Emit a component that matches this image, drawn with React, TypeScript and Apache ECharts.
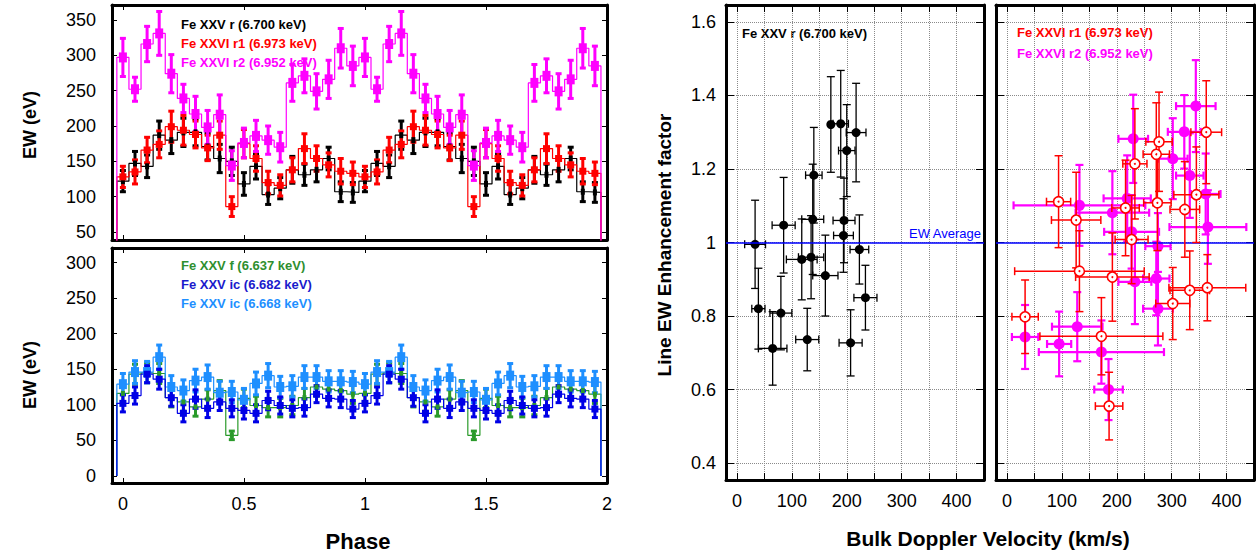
import React, { useEffect, useRef } from 'react';
import * as echarts from 'echarts';

// ---------- DATA ----------
const phaseBins = [0, 0.05, 0.1, 0.15, 0.2, 0.25, 0.3, 0.35, 0.4, 0.45, 0.5, 0.55, 0.6, 0.65, 0.7, 0.75, 0.8, 0.85, 0.9, 0.95];
const binHalfWidth = 0.025;
const phaseTicks = [0, 0.5, 1, 1.5, 2];
const ewTicksTop = [50, 100, 150, 200, 250, 300, 350];
const ewTicksBottom = [0, 50, 100, 150, 200, 250, 300];
const velLabelTicks = [0, 100, 200, 300, 400];
const velTicks = [0, 50, 100, 150, 200, 250, 300, 350, 400];
const enhTicks = [0.4, 0.6, 0.8, 1, 1.2, 1.4, 1.6];
const ewAverage = 1;

// Top-left panel (EW, eV)
const feXXVrEW = [122, 147, 143, 187, 180, 191, 191, 171, 154, 150, 118, 143, 103, 112, 138, 131, 138, 154, 107, 106];
const feXXVrErr = [15, 17, 16, 20, 19, 20, 19, 19, 20, 20, 16, 18, 14, 15, 19, 15, 17, 16, 14, 14];
const feXXVIr1EW = [128, 135, 166, 174, 199, 194, 188, 169, 187, 86, 175, 154, 120, 116, 138, 168, 154, 145, 136, 133];
const feXXVIr1Err = [15, 17, 18, 19, 22, 21, 19, 18, 20, 14, 20, 18, 16, 15, 17, 21, 18, 17, 18, 16];
const feXXVIr2EW = [297, 252, 316, 331, 274, 239, 217, 198, 216, 144, 176, 186, 180, 170, 261, 271, 249, 266, 310, 285];
const feXXVIr2Err = [27, 17, 25, 31, 27, 20, 25, 24, 28, 21, 21, 22, 20, 21, 26, 24, 25, 27, 28, 28];

// Bottom-left panel (EW, eV)
const feXXVfEW = [116, 143, 145, 144, 110, 104, 97, 108, 120, 57, 109, 99, 96, 96, 99, 110, 125, 122, 120, 115];
const feXXVfErr = [13, 14, 14, 14, 13, 13, 13, 13, 14, 6, 13, 13, 13, 13, 13, 13, 13, 13, 13, 13];
const feXXVic682EW = [102, 113, 143, 136, 110, 88, 108, 95, 104, 95, 92, 88, 106, 99, 95, 96, 115, 109, 108, 94];
const feXXVic682Err = [12, 12, 12, 14, 12, 12, 13, 13, 12, 12, 12, 12, 13, 12, 12, 12, 12, 12, 12, 12];
const feXXVic668EW = [129, 146, 146, 167, 125, 120, 134, 139, 117, 118, 107, 130, 141, 125, 126, 139, 139, 133, 133, 132];
const feXXVic668Err = [15, 16, 15, 17, 16, 15, 16, 17, 16, 15, 16, 16, 17, 15, 15, 16, 16, 15, 15, 15];

// Right panel 1: Fe XXV r
const rVel = [33, 85, 140, 138, 171, 189, 200, 217, 195, 194, 223, 118, 135, 161, 39, 80, 65, 128, 207, 234];
const rVelErr = [19, 21, 15, 20, 0, 14, 15, 18, 20, 18, 17, 28, 23, 23, 12, 20, 26, 21, 21, 21];
const rEnh = [0.995, 1.047, 1.183, 1.063, 1.321, 1.323, 1.25, 1.299, 1.06, 1.019, 0.981, 0.954, 0.96, 0.91, 0.82, 0.808, 0.712, 0.736, 0.727, 0.85];
const rEnhErr = [0.12, 0.13, 0.13, 0.15, 0.13, 0.145, 0.125, 0.134, 0.115, 0.1, 0.094, 0.11, 0.113, 0.11, 0.11, 0.1, 0.1, 0.085, 0.09, 0.088];

// Right panel 2: Fe XXVI r2 (magenta)
const r2Vel = [344, 323, 230, 302, 333, 362, 219, 132, 192, 227, 366, 275, 233, 272, 275, 128, 33, 95, 172, 185];
const r2VelErr = [36, 30, 27, 27, 25, 27, 43, 120, 67, 50, 70, 23, 30, 24, 27, 46, 24, 22, 114, 26];
const r2Enh = [1.371, 1.301, 1.282, 1.228, 1.182, 1.132, 1.12, 1.101, 1.081, 1.029, 1.042, 0.99, 0.893, 0.902, 0.82, 0.771, 0.743, 0.724, 0.702, 0.6];
const r2EnhErr = [0.125, 0.1, 0.12, 0.11, 0.115, 0.11, 0.117, 0.11, 0.113, 0.1, 0.1, 0.09, 0.115, 0.1, 0.1, 0.094, 0.087, 0.088, 0.086, 0.083];

// Right panel 2: Fe XXVI r1 (red open circles)
const r1Vel = [363, 277, 272, 233, 345, 274, 94, 324, 216, 126, 227, 132, 192, 333, 365, 302, 33, 172, 186];
const r1VelErr = [28, 24, 24, 22, 41, 25, 22, 27, 25, 45, 30, 118, 67, 36, 70, 31, 24, 112, 25];
const r1Enh = [1.3, 1.274, 1.24, 1.214, 1.13, 1.108, 1.111, 1.09, 1.094, 1.061, 1.008, 0.922, 0.906, 0.87, 0.877, 0.834, 0.798, 0.745, 0.555];
const r1EnhErr = [0.14, 0.135, 0.14, 0.15, 0.13, 0.13, 0.125, 0.13, 0.13, 0.13, 0.12, 0.11, 0.12, 0.107, 0.09, 0.098, 0.1, 0.105, 0.092];

// ---------- STYLE ----------
const FONT = "'Liberation Sans', Arial, Helvetica, sans-serif";
const C_BLACK = '#000000';
const C_RED = '#ff0000';
const C_MAG = '#ff00ff';
const C_GREEN = '#2a9a2a';
const C_DBLUE = '#0000e6';
const C_LBLUE = '#1e8fff';

// two folded cycles of phase
const allPhases = [...phaseBins, ...phaseBins.map((p) => p + 1)];
const twice = (a: number[]) => [...a, ...a];

function stepData(vals: number[]) {
  const v = twice(vals);
  const pts: number[][] = [[allPhases[0] - binHalfWidth, 0]];
  allPhases.forEach((p, i) => {
    pts.push([p - binHalfWidth, v[i]]);
    pts.push([p + binHalfWidth, v[i]]);
  });
  pts.push([allPhases[allPhases.length - 1] + binHalfWidth, 0]);
  return pts;
}

function phaseErrData(vals: number[], errs: number[]) {
  const v = twice(vals);
  const e = twice(errs);
  return allPhases.map((p, i) => [p, v[i], 0, e[i]]);
}

function velErrData(vel: number[], velErr: number[], enh: number[], enhErr: number[]) {
  return vel.map((x, i) => [x, enh[i], velErr[i], enhErr[i]]);
}

function errRender(color: string, lw: number, cap: number) {
  return (params: any, api: any) => {
    const x = api.value(0);
    const y = api.value(1);
    const ex = api.value(2);
    const ey = api.value(3);
    const style = { stroke: color, lineWidth: lw };
    const children: any[] = [];
    if (ey > 0) {
      const a = api.coord([x, y + ey]);
      const b = api.coord([x, y - ey]);
      children.push({ type: 'line', shape: { x1: a[0], y1: a[1], x2: b[0], y2: b[1] }, style });
      children.push({ type: 'line', shape: { x1: a[0] - cap, y1: a[1], x2: a[0] + cap, y2: a[1] }, style });
      children.push({ type: 'line', shape: { x1: b[0] - cap, y1: b[1], x2: b[0] + cap, y2: b[1] }, style });
    }
    if (ex > 0) {
      const a = api.coord([x - ex, y]);
      const b = api.coord([x + ex, y]);
      children.push({ type: 'line', shape: { x1: a[0], y1: a[1], x2: b[0], y2: b[1] }, style });
      children.push({ type: 'line', shape: { x1: a[0], y1: a[1] - cap, x2: a[0], y2: a[1] + cap }, style });
      children.push({ type: 'line', shape: { x1: b[0], y1: b[1] - cap, x2: b[0], y2: b[1] + cap }, style });
    }
    return { type: 'group', children };
  };
}

function phaseGroup(vals: number[], errs: number[], color: string, axis: number, marker: any) {
  return [
    {
      type: 'line',
      xAxisIndex: axis,
      yAxisIndex: axis,
      data: stepData(vals),
      symbol: 'none',
      showSymbol: false,
      clip: true,
      lineStyle: { color, width: 1.2 },
      z: 2,
    },
    {
      type: 'custom',
      xAxisIndex: axis,
      yAxisIndex: axis,
      data: phaseErrData(vals, errs),
      renderItem: errRender(color, 3, 3),
      clip: true,
      z: 3,
    },
    {
      type: 'scatter',
      xAxisIndex: axis,
      yAxisIndex: axis,
      data: allPhases.map((p, i) => [p, twice(vals)[i]]),
      symbol: 'rect',
      symbolSize: marker,
      itemStyle: { color, opacity: 1 },
      clip: true,
      z: 4,
    },
  ];
}

const frameLine = { show: true, onZero: false, lineStyle: { color: '#000', width: 3 } };

function xAx(grid: number, pos: 'bottom' | 'top', min: number, max: number, ticks: number[], labels: number[] | null, tickLen: number, split: boolean) {
  return {
    type: 'value',
    gridIndex: grid,
    position: pos,
    min,
    max,
    axisLine: frameLine,
    axisTick: { show: true, inside: true, length: tickLen, customValues: ticks, lineStyle: { color: '#000', width: 1 } },
    axisLabel: labels
      ? { show: true, customValues: labels, margin: 12, fontSize: 18, color: '#000', fontFamily: FONT }
      : { show: false },
    splitLine: split ? { show: true, lineStyle: { color: '#8a8a8a', type: 'dotted', width: 1 } } : { show: false },
  };
}

function yAx(grid: number, pos: 'left' | 'right', min: number, max: number, ticks: number[], labels: number[] | null, tickLen: number, split: boolean, margin: number) {
  return {
    type: 'value',
    gridIndex: grid,
    position: pos,
    min,
    max,
    axisLine: frameLine,
    axisTick: { show: true, inside: true, length: tickLen, customValues: ticks, lineStyle: { color: '#000', width: 1 } },
    axisLabel: labels
      ? { show: true, customValues: labels, margin, fontSize: 18, color: '#000', fontFamily: FONT }
      : { show: false },
    splitLine: split ? { show: true, lineStyle: { color: '#8a8a8a', type: 'dotted', width: 1 } } : { show: false },
  };
}

const PH_MIN = -0.045;
const PH_MAX = 2.0;
const VEL_MIN = -20;
const VEL_MAX = 450;
const ENH_MIN = 0.354;
const ENH_MAX = 1.646;

function legendText(x: number, y: number, text: string, color: string) {
  return {
    type: 'text',
    x,
    y,
    style: { text, fill: color, font: `bold 13px ${FONT}`, textVerticalAlign: 'middle' },
  };
}

export default function App() {
  const ref = useRef<HTMLDivElement>(null);
  useEffect(() => {
    if (!ref.current) return;
    const chart = echarts.init(ref.current, null, { renderer: 'svg' });
    const option: any = {
      animation: false,
      backgroundColor: '#ffffff',
      grid: [
        { left: 112, top: 5, width: 495, height: 235, outerBoundsMode: 'none' },
        { left: 112, top: 248, width: 495, height: 235, outerBoundsMode: 'none' },
        { left: 726, top: 5, width: 258, height: 475, outerBoundsMode: 'none' },
        { left: 996, top: 5, width: 258, height: 475, outerBoundsMode: 'none' },
      ],
      xAxis: [
        xAx(0, 'bottom', PH_MIN, PH_MAX, phaseTicks, null, 5, false),
        xAx(0, 'top', PH_MIN, PH_MAX, phaseTicks, null, 5, false),
        xAx(1, 'bottom', PH_MIN, PH_MAX, phaseTicks, phaseTicks, 5, false),
        xAx(1, 'top', PH_MIN, PH_MAX, phaseTicks, null, 5, false),
        xAx(2, 'bottom', VEL_MIN, VEL_MAX, velTicks, velLabelTicks, 7, true),
        xAx(2, 'top', VEL_MIN, VEL_MAX, velTicks, null, 7, false),
        xAx(3, 'bottom', VEL_MIN, VEL_MAX, velTicks, velLabelTicks, 7, true),
        xAx(3, 'top', VEL_MIN, VEL_MAX, velTicks, null, 7, false),
      ],
      yAxis: [
        yAx(0, 'left', 38.7, 371.2, ewTicksTop, ewTicksTop, 5, false, 16),
        yAx(0, 'right', 38.7, 371.2, ewTicksTop, null, 5, false, 16),
        yAx(1, 'left', -10, 320.5, ewTicksBottom, ewTicksBottom, 5, false, 16),
        yAx(1, 'right', -10, 320.5, ewTicksBottom, null, 5, false, 16),
        yAx(2, 'left', ENH_MIN, ENH_MAX, enhTicks, enhTicks, 8, true, 10),
        yAx(2, 'right', ENH_MIN, ENH_MAX, enhTicks, null, 8, false, 10),
        yAx(3, 'left', ENH_MIN, ENH_MAX, enhTicks, null, 8, true, 10),
        yAx(3, 'right', ENH_MIN, ENH_MAX, enhTicks, null, 8, false, 10),
      ],
      series: [
        ...phaseGroup(feXXVrEW, feXXVrErr, C_BLACK, 0, [4, 6]),
        ...phaseGroup(feXXVIr1EW, feXXVIr1Err, C_RED, 0, [7, 7]),
        ...phaseGroup(feXXVIr2EW, feXXVIr2Err, C_MAG, 0, [8, 10]),
        ...phaseGroup(feXXVfEW, feXXVfErr, C_GREEN, 2, [4, 5]),
        ...phaseGroup(feXXVic668EW, feXXVic668Err, C_LBLUE, 2, [8, 10]),
        ...phaseGroup(feXXVic682EW, feXXVic682Err, C_DBLUE, 2, [7, 7]),
        // right panel 1
        {
          type: 'custom',
          xAxisIndex: 4,
          yAxisIndex: 4,
          data: velErrData(rVel, rVelErr, rEnh, rEnhErr),
          renderItem: errRender(C_BLACK, 1.3, 4),
          clip: true,
          z: 3,
        },
        {
          type: 'scatter',
          xAxisIndex: 4,
          yAxisIndex: 4,
          data: rVel.map((x, i) => [x, rEnh[i]]),
          symbol: 'circle',
          symbolSize: 9,
          itemStyle: { color: C_BLACK, opacity: 1 },
          z: 4,
          markLine: {
            silent: true,
            symbol: 'none',
            data: [{ yAxis: ewAverage }],
            lineStyle: { color: '#0000ff', type: 'solid', width: 1.5 },
            label: { show: true, position: 'insideEndTop', formatter: 'EW Average', color: '#0000ff', fontSize: 13, fontFamily: FONT, distance: 3 },
          },
        },
        // right panel 2 magenta
        {
          type: 'custom',
          xAxisIndex: 6,
          yAxisIndex: 6,
          data: velErrData(r2Vel, r2VelErr, r2Enh, r2EnhErr),
          renderItem: errRender(C_MAG, 2.2, 4),
          clip: true,
          z: 3,
        },
        {
          type: 'scatter',
          xAxisIndex: 6,
          yAxisIndex: 6,
          data: r2Vel.map((x, i) => [x, r2Enh[i]]),
          symbol: 'circle',
          symbolSize: 11,
          itemStyle: { color: C_MAG, opacity: 1 },
          z: 4,
          markLine: {
            silent: true,
            symbol: 'none',
            data: [{ yAxis: ewAverage }],
            lineStyle: { color: '#0000ff', type: 'solid', width: 1.5 },
            label: { show: false },
          },
        },
        // right panel 2 red
        {
          type: 'custom',
          xAxisIndex: 6,
          yAxisIndex: 6,
          data: velErrData(r1Vel, r1VelErr, r1Enh, r1EnhErr),
          renderItem: errRender(C_RED, 1.5, 4),
          clip: true,
          z: 5,
        },
        {
          type: 'scatter',
          xAxisIndex: 6,
          yAxisIndex: 6,
          data: r1Vel.map((x, i) => [x, r1Enh[i]]),
          symbol: 'circle',
          symbolSize: 10,
          itemStyle: { color: '#ffffff', borderColor: C_RED, borderWidth: 1.6, opacity: 1 },
          z: 6,
        },
        {
          type: 'scatter',
          xAxisIndex: 6,
          yAxisIndex: 6,
          data: r1Vel.map((x, i) => [x, r1Enh[i]]),
          symbol: 'circle',
          symbolSize: 2,
          itemStyle: { color: C_RED, opacity: 1 },
          z: 7,
        },
      ],
      graphic: [
        legendText(181, 24, 'Fe XXV r (6.700 keV)', C_BLACK),
        legendText(181, 43, 'Fe XXVI r1 (6.973 keV)', C_RED),
        legendText(181, 62, 'Fe XXVI r2 (6.952 keV)', C_MAG),
        legendText(181, 265, 'Fe XXV f (6.637 keV)', '#2f8f2f'),
        legendText(181, 284, 'Fe XXV ic (6.682 keV)', '#1a1acc'),
        legendText(181, 303, 'Fe XXV ic (6.668 keV)', C_LBLUE),
        legendText(742, 33, 'Fe XXV r (6.700 keV)', C_BLACK),
        legendText(1017, 32, 'Fe XXVI r1 (6.973 keV)', C_RED),
        legendText(1017, 53, 'Fe XXVI r2 (6.952 keV)', C_MAG),
        {
          type: 'text',
          x: 30,
          y: 125,
          rotation: Math.PI / 2,
          style: { text: 'EW (eV)', fill: '#000', font: `bold 18px ${FONT}`, textAlign: 'center', textVerticalAlign: 'middle' },
        },
        {
          type: 'text',
          x: 30,
          y: 375,
          rotation: Math.PI / 2,
          style: { text: 'EW (eV)', fill: '#000', font: `bold 18px ${FONT}`, textAlign: 'center', textVerticalAlign: 'middle' },
        },
        {
          type: 'text',
          x: 664,
          y: 245,
          rotation: Math.PI / 2,
          style: { text: 'Line EW Enhancement factor', fill: '#000', font: `bold 19px ${FONT}`, textAlign: 'center', textVerticalAlign: 'middle' },
        },
        {
          type: 'text',
          x: 358,
          y: 541,
          style: { text: 'Phase', fill: '#000', font: `bold 22px ${FONT}`, textAlign: 'center', textVerticalAlign: 'middle' },
        },
        {
          type: 'text',
          x: 988,
          y: 538,
          style: { text: 'Bulk Doppler Velocity (km/s)', fill: '#000', font: `bold 21px ${FONT}`, textAlign: 'center', textVerticalAlign: 'middle' },
        },
      ],
    };
    chart.setOption(option);
    return () => chart.dispose();
  }, []);
  return <div ref={ref} style={{ position: 'fixed', left: 0, top: 0, width: 1259, height: 556 }} />;
}
